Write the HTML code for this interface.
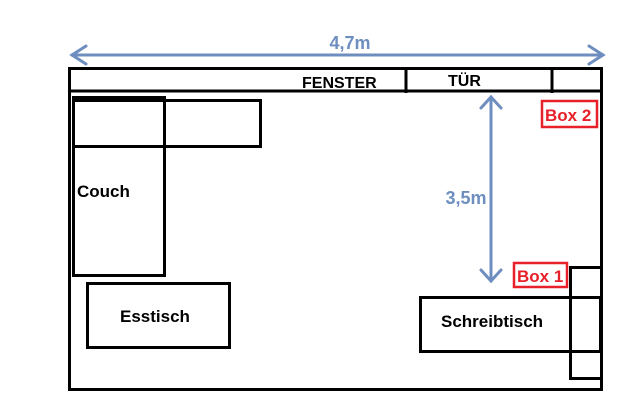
<!DOCTYPE html>
<html><head><style>body{margin:0;background:#fff}svg{display:block}text{font-family:"Liberation Sans",Calibri,sans-serif;font-weight:bold}</style></head><body>
<svg width="640" height="416" viewBox="0 0 640 416">
<g stroke="#6d8ebf" stroke-width="3" fill="none" stroke-linecap="round">
<line x1="72" y1="55" x2="603" y2="55"/>
<polyline points="86,46 72,55 86,64"/>
<polyline points="589,46 603,55 589,64"/>
<line x1="491" y1="97" x2="491" y2="281"/>
<polyline points="481,108 491,97 501,108"/>
<polyline points="481,270 491,281 501,270"/>
</g>
<text x="350" y="49" fill="#6d8ebf" font-size="18" text-anchor="middle">4,7m</text>
<text x="466" y="204" fill="#6d8ebf" font-size="18" text-anchor="middle">3,5m</text>
<g stroke="#000" stroke-width="3" fill="none">
<rect x="69.5" y="68.5" width="532" height="321"/>
<line x1="69" y1="91" x2="603" y2="91"/>
<line x1="406" y1="68" x2="406" y2="93"/>
<line x1="552" y1="68" x2="552" y2="93"/>
<rect x="73.5" y="97.5" width="91" height="178"/>
<rect x="73.5" y="100.5" width="187" height="46"/>
<rect x="87.5" y="283.5" width="142" height="64"/>
<rect x="420.5" y="297.5" width="180" height="54"/>
<rect x="570.5" y="267.5" width="31" height="111"/>
</g>
<text x="302" y="88" font-size="16">FENSTER</text>
<text x="448" y="86" font-size="16">TÜR</text>
<text x="77" y="197" font-size="17">Couch</text>
<text x="120" y="322" font-size="17">Esstisch</text>
<text x="441" y="327" font-size="17">Schreibtisch</text>
<rect x="514" y="263" width="53" height="24" fill="#fff" stroke="#e8202a" stroke-width="2.5"/>
<text x="517" y="282" font-size="17" fill="#e8202a">Box 1</text>
<rect x="542" y="101" width="55" height="26" fill="#fff" stroke="#e8202a" stroke-width="2.5"/>
<text x="545" y="121" font-size="17" fill="#e8202a">Box 2</text>
</svg>
</body></html>
